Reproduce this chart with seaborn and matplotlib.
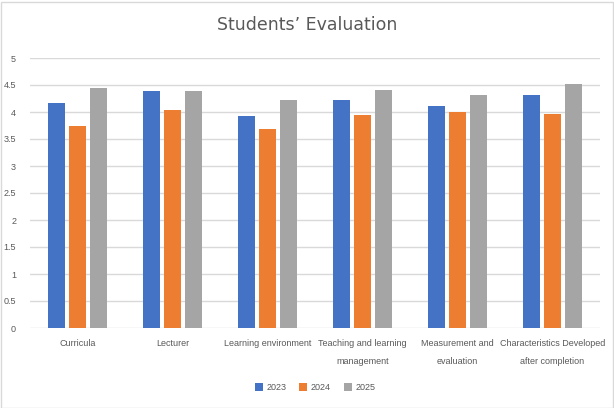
import seaborn as sns
import matplotlib.pyplot as plt
import pandas as pd
from matplotlib.patches import Rectangle

# data
categories = ['Curricula', 'Lecturer', 'Learning environment',
              'Teaching and learning\nmanagement', 'Measurement and\nevaluation',
              'Characteristics Developed\nafter completion']
years = ['2023', '2024', '2025']
score_2023 = [4.16, 4.38, 3.92, 4.23, 4.12, 4.32]
score_2024 = [3.75, 4.03, 3.68, 3.95, 4.00, 3.97]
score_2025 = [4.44, 4.38, 4.23, 4.40, 4.31, 4.51]
y_ticks = [0, 0.5, 1, 1.5, 2, 2.5, 3, 3.5, 4, 4.5, 5]

df = pd.DataFrame({
    'category': categories * 3,
    'year': [y for y in years for _ in categories],
    'score': score_2023 + score_2024 + score_2025,
})

sns.set_style('white')
plt.rcParams['font.family'] = ['Liberation Sans', 'DejaVu Sans']
palette = ['#4472C4', '#ED7D31', '#A5A5A5']

fig = plt.figure(figsize=(6.14, 4.08), dpi=100)
ax = fig.add_axes([30 / 614, 1 - 328 / 408, 570 / 614, 270 / 408])

sns.barplot(data=df, x='category', y='score', hue='year', palette=palette,
            width=0.66, gap=0.2, saturation=1, linewidth=0, ax=ax, zorder=3)

ax.set_ylim(0, 5)
ax.set_xlim(-0.5, len(categories) - 0.5)
ax.set_yticks(y_ticks)
ax.set_yticklabels([f'{t:g}' for t in y_ticks], fontsize=6.5, color='#595959')
ax.tick_params(axis='x', labelsize=6.5, colors='#595959', length=0, pad=8)
ax.tick_params(axis='y', length=0, pad=10)
for lbl in ax.get_xticklabels():
    lbl.set_linespacing(2.3)
    lbl.set_verticalalignment('top')
ax.set_xlabel('')
ax.set_ylabel('')
ax.yaxis.grid(True, color='#D9D9D9', linewidth=1, zorder=0)
for s in ax.spines.values():
    s.set_visible(False)

ax.legend(loc='center', bbox_to_anchor=(0.5, -0.22), ncol=3, frameon=False,
          fontsize=6.5, handlelength=0.9, handleheight=0.9, columnspacing=1.4,
          handletextpad=0.4, labelcolor='#595959')

fig.text(0.5, 1 - 25 / 408, 'Students’ Evaluation', ha='center', va='center',
         fontsize=12.5, color='#595959', family=['DejaVu Sans'])

fig.patches.append(Rectangle((0.5 / 614, 0.5 / 408), 612 / 614, 406 / 408,
                             transform=fig.transFigure, fill=False,
                             edgecolor='#D9D9D9', linewidth=1))

fig.savefig('out.png', dpi=100)
